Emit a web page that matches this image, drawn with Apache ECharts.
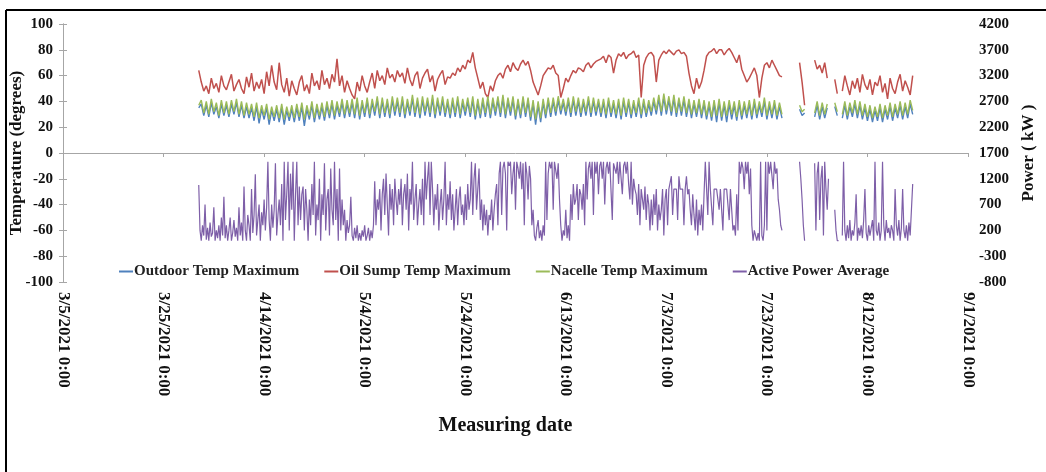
<!DOCTYPE html>
<html>
<head>
<meta charset="utf-8">
<script src="https://cdn.jsdelivr.net/npm/echarts@6/dist/echarts.min.js"></script>
<style>html,body{margin:0;padding:0;background:#fff}#c{width:1046px;height:472px}</style>
</head>
<body>
<div id="c"></div>
<script>
// ---- data: first sample = day 27 after 3/5/2021 ----
const startDay = 27;
const tempStepDay = 0.5;    // temperatures: two samples per day
const powerStepDay = 0.25;  // power: four samples per day
const tickLabels = ['3/5/2021 0:00','3/25/2021 0:00','4/14/2021 0:00','5/4/2021 0:00','5/24/2021 0:00','6/13/2021 0:00','7/3/2021 0:00','7/23/2021 0:00','8/12/2021 0:00','9/1/2021 0:00'];
const seriesNames = ['Outdoor Temp Maximum','Oil Sump Temp Maximum','Nacelle Temp Maximum','Active Power Average'];
const N = null;
const outdoorTemp = [
35,38,29,37,28,39,30,36,27,38,29,37,28,38,30,39,28,37,27,36,
27,35,25,36,23,34,26,35,22,33,25,34,24,35,22,33,25,34,24,35,
25,36,21,34,26,37,24,35,26,36,25,37,27,38,26,37,28,39,27,38,
28,39,27,40,26,38,28,40,27,39,29,41,27,40,28,39,27,41,29,40,
28,41,27,39,29,42,28,40,27,41,29,40,28,42,27,40,29,41,28,39,
27,40,28,41,27,39,29,40,28,41,26,39,27,40,28,41,27,40,29,41,
28,42,27,40,29,41,26,39,27,41,28,40,25,38,22,37,24,39,27,40,
28,40,29,41,30,39,29,40,28,41,29,40,28,39,29,41,28,40,29,39,
28,39,27,40,28,38,27,39,26,40,28,39,27,38,28,40,27,39,28,38,
29,40,30,42,29,43,30,41,29,42,28,40,29,41,28,39,27,38,28,39,
27,38,26,37,25,38,24,39,25,37,24,38,26,37,25,38,26,37,27,38,
26,39,27,37,28,40,26,37,27,38,26,36,27,N,N,N,N,N,N,34,
29,31,N,N,N,28,37,26,36,27,35,N,N,36,29,N,27,37,26,36,
28,38,27,37,26,35,25,34,24,33,25,35,24,34,26,36,25,35,27,37,
26,36,27,38,30
];
const oilSumpTemp = [
64,55,48,52,46,58,50,54,47,60,52,49,55,61,48,53,57,50,46,59,
51,62,48,55,50,57,46,63,52,68,55,49,70,53,47,58,44,56,50,45,
55,60,48,53,46,62,52,56,49,64,53,58,50,61,55,73,52,60,47,56,
50,45,42,55,48,60,52,47,55,62,50,64,56,60,53,66,58,61,55,64,
59,62,54,66,57,52,60,63,50,58,62,65,55,60,48,57,61,64,53,59,
58,62,60,66,63,68,65,72,70,78,66,58,50,55,46,43,52,48,56,60,
62,58,65,68,63,70,66,64,69,72,68,71,64,55,50,45,52,60,63,66,
65,68,62,60,43,50,58,55,60,64,62,66,65,63,68,70,66,69,71,72,
73,75,70,76,74,62,72,77,75,78,73,76,77,79,74,76,43,68,74,77,
78,75,55,72,76,79,77,80,78,76,79,80,77,78,75,62,52,46,58,50,
55,64,75,78,79,81,77,80,80,76,79,81,78,74,70,76,65,60,55,58,
62,66,60,43,58,68,70,66,72,68,64,60,59,N,N,N,N,N,N,70,
55,37,N,N,N,72,65,68,62,70,58,N,N,57,46,N,48,60,52,45,
56,50,58,47,61,53,49,57,45,55,52,60,47,54,42,58,50,46,55,61,
48,56,51,45,60
];
const nacelleTemp = [
37,41,31,40,30,42,32,39,29,41,31,40,30,41,32,42,30,40,29,39,
30,38,28,39,27,37,29,38,26,36,28,37,27,38,26,36,28,37,27,38,
28,39,26,37,29,40,27,38,29,39,28,40,30,41,29,40,31,42,30,41,
31,42,30,43,29,41,31,43,30,42,32,44,30,43,31,42,30,44,32,43,
31,44,30,42,32,45,31,43,30,44,32,43,31,45,30,43,32,44,31,42,
30,43,31,44,30,42,32,43,31,44,29,42,30,43,31,44,30,43,32,44,
31,45,30,43,32,44,29,42,30,44,31,43,28,41,26,40,27,42,30,43,
31,43,32,44,33,42,32,43,31,44,32,43,31,42,32,44,31,43,32,42,
31,42,30,43,31,41,30,42,29,43,31,42,30,41,31,43,30,42,31,41,
32,43,33,45,32,46,33,44,32,45,31,43,32,44,31,42,30,41,31,42,
30,41,29,40,28,41,29,42,28,40,29,41,30,40,28,41,29,40,30,41,
29,42,30,40,31,43,29,40,30,41,29,39,30,N,N,N,N,N,N,37,
32,34,N,N,N,31,40,29,39,30,38,N,N,39,32,N,30,40,29,39,
31,41,30,40,29,38,28,37,27,36,28,38,27,37,29,39,28,38,30,40,
29,39,30,41,33
];
const activePower = [
1080,200,0,300, 100,700,20,250, 0,350,80,150, 650,0,200,50, 300,0,450,100,
850,50,300,0, 200,450,0,150, 400,80,250,0, 650,100,350,0, 1050,200,0,500,
300,0,1000,150, 500,1290,100,400, 700,0,550,300, 800,200,650,1530, 400,0,700,250,
600,1500,100,500, 800,300,1100,0, 1530,400,900,1530, 200,1300,600,1530, 0,900,1530,300,
1050,400,900,1050, 200,1000,600,0, 800,300,1100,500, 1530,100,700,400, 1200,0,900,500,
1500,200,800,1000, 100,1400,600,300, 1530,400,1000,0, 1400,200,800,300, 600,0,400,150,
300,850,100,0, 250,50,300,0, 150,0,200,80, 300,0,100,250, 0,200,50,300,
1150,300,800,600, 1000,200,900,1200, 500,1300,700,100, 1100,600,1000,300, 1200,800,500,1000,
700,1200,300,900, 1100,600,1300,200, 1000,700,1530,400, 800,1100,300,700, 1000,500,1200,300,
1530,800,1200,1530, 500,1530,1000,300, 900,600,1100,200, 700,1000,400,800, 1530,300,900,600,
1150,400,900,200, 600,1000,300,800, 1050,500,700,300, 900,400,1100,600, 800,1530,500,1200,
1500,600,1000,1400, 400,800,200,700, 300,600,100,500, 400,800,200,600, 900,1100,300,1300,
1530,500,1400,1530, 1300,200,1530,1450, 1530,900,1300,1530, 600,1530,1400,1200, 1530,1000,1500,300,
1530,1300,800,1450, 1200,300,600,100, 0,250,400,50, 200,0,300,100, 1530,400,1300,1530,
1400,1530,600,1530, 1530,1200,1500,800, 300,0,200,100, 600,50,300,0, 900,400,1100,700,
800,1100,400,1000, 900,600,1100,300, 1530,800,1400,1530, 1200,1530,500,1530, 1300,1530,900,1450,
1530,1200,1530,700, 1400,1530,1300,1530, 1530,400,1500,1530, 1300,1530,1100,1530, 1530,900,1450,1530,
1300,1530,1100,800, 1530,700,1200,1000, 900,500,1100,300, 1000,800,600,1050, 400,900,700,200,
800,300,900,500, 1000,200,700,400, 600,1000,100,800, 1000,300,1000,1000, 1250,500,1000,1000,
1000,400,1250,1000, 1000,1000,300,1000, 1250,900,1000,600, 300,900,500,200, 800,100,600,300,
700,200,900,1530, 1530,500,1530,1000, 1000,300,1000,1000, 1000,1000,600,1000, 1000,200,1000,1000,
1000,1000,400,1000, 600,200,300,100, 900,200,1530,1300, 1530,1400,1000,1530, 1300,1530,900,1400,
300,0,200,100, 0,150,0,1530, 100,0,300,1530, 200,1530,1300,1530, 1500,1000,1530,1300,
1400,800,600,300, 200,
N,N,N,N,N,N,N,N,N,N,N,N,N,
1530,1200,800,300,0,
N,N,N,N,N,N,N,
1500,200,1300,1530, 400,1200,1450,100, 1530,1000,600,1200,
N,N,N,N,
600,200,0,0,
N,N,
100,1530,200,0, 300,50,400,0, 200,100,350,900, 0,250,100,300, 50,400,1000,150,
0,300,100,250, 400,0,1530,200, 100,350,0,200, 1530,300,0,400, 150,250,50,300,
200,0,1000,300, 100,400,0,250, 1000,200,50,300, 0,350,100,600, 1100
];
// ---- end data ----

function pairs(arr, step){ return arr.map((v,i)=>[startDay + i*step, v]); }
const serif = '"Liberation Serif","Times New Roman",serif';
const colors = ['#4F81BD','#C0504D','#9BBB59','#7E5FA8'];
const chart = echarts.init(document.getElementById('c'), null, {renderer:'canvas'});
const axisLineStyle = {color:'#a6a6a6', width:1};
chart.setOption({
  animation:false,
  backgroundColor:'#fff',
  color: colors,
  grid:{left:63, right:78, top:24, bottom:190, containLabel:false, outerBoundsMode:'none'},
  legend:{
    left:114, top:259, itemGap:25, itemWidth:14, itemHeight:2, icon:'rect',
    data: seriesNames,
    textStyle:{fontFamily:serif, fontSize:15, fontWeight:'bold', color:'#222', padding:[0,0,0,-4]}
  },
  xAxis:[
    {type:'value', min:0, max:180, interval:20, position:'bottom',
     axisLine:{show:true, onZero:true, lineStyle:axisLineStyle},
     axisTick:{show:true, length:4, lineStyle:axisLineStyle},
     axisLabel:{show:false}, splitLine:{show:false}},
    {type:'value', min:0, max:180, interval:20, position:'bottom',
     axisLine:{show:false, onZero:false}, axisTick:{show:false}, splitLine:{show:false},
     axisLabel:{show:true, rotate:-90, margin:10, fontFamily:serif, fontWeight:'bold', fontSize:17, color:'#111',
       formatter:(v)=>tickLabels[Math.round(v/20)]},
     name:'Measuring date', nameLocation:'middle', nameGap:134,
     nameTextStyle:{fontFamily:serif, fontWeight:'bold', fontSize:20, color:'#111', padding:[0,20,0,0]}}
  ],
  yAxis:[
    {type:'value', min:-100, max:100, interval:20, position:'left',
     axisLine:{show:true, lineStyle:axisLineStyle}, axisTick:{show:true, length:4, lineStyle:axisLineStyle},
     splitLine:{show:false},
     axisLabel:{margin:10, fontFamily:serif, fontWeight:'bold', fontSize:15, color:'#111'},
     name:'Temperature (degrees)', nameLocation:'middle', nameRotate:90, nameGap:38, nameMoveOverlap:false,
     nameTextStyle:{fontFamily:serif, fontWeight:'bold', fontSize:17, color:'#111'}},
    {type:'value', min:-800, max:4200, interval:500, position:'right',
     axisLine:{show:true, lineStyle:axisLineStyle}, axisTick:{show:true, length:4, lineStyle:axisLineStyle},
     splitLine:{show:false},
     axisLabel:{margin:11, fontFamily:serif, fontWeight:'bold', fontSize:15, color:'#111', formatter:(v)=>String(v)},
     name:'Power ( kW )', nameLocation:'middle', nameRotate:90, nameGap:50,
     nameTextStyle:{fontFamily:serif, fontWeight:'bold', fontSize:17, color:'#111'}}
  ],
  graphic:[
    {type:'line', shape:{x1:6,y1:10,x2:1046,y2:10}, style:{stroke:'#000', lineWidth:2}},
    {type:'line', shape:{x1:6,y1:10,x2:6,y2:472}, style:{stroke:'#000', lineWidth:2}}
  ],
  series:[
    {name:seriesNames[0], type:'line', xAxisIndex:0, yAxisIndex:0, data:pairs(outdoorTemp, tempStepDay), showSymbol:false, connectNulls:false, lineStyle:{width:1.4}},
    {name:seriesNames[1], type:'line', xAxisIndex:0, yAxisIndex:0, data:pairs(oilSumpTemp, tempStepDay), showSymbol:false, connectNulls:false, lineStyle:{width:1.5}},
    {name:seriesNames[2], type:'line', xAxisIndex:0, yAxisIndex:0, data:pairs(nacelleTemp, tempStepDay), showSymbol:false, connectNulls:false, lineStyle:{width:1.4}},
    {name:seriesNames[3], type:'line', xAxisIndex:0, yAxisIndex:1, data:pairs(activePower, powerStepDay), showSymbol:false, connectNulls:false, lineStyle:{width:1.2}}
  ]
});
</script>
</body>
</html>
